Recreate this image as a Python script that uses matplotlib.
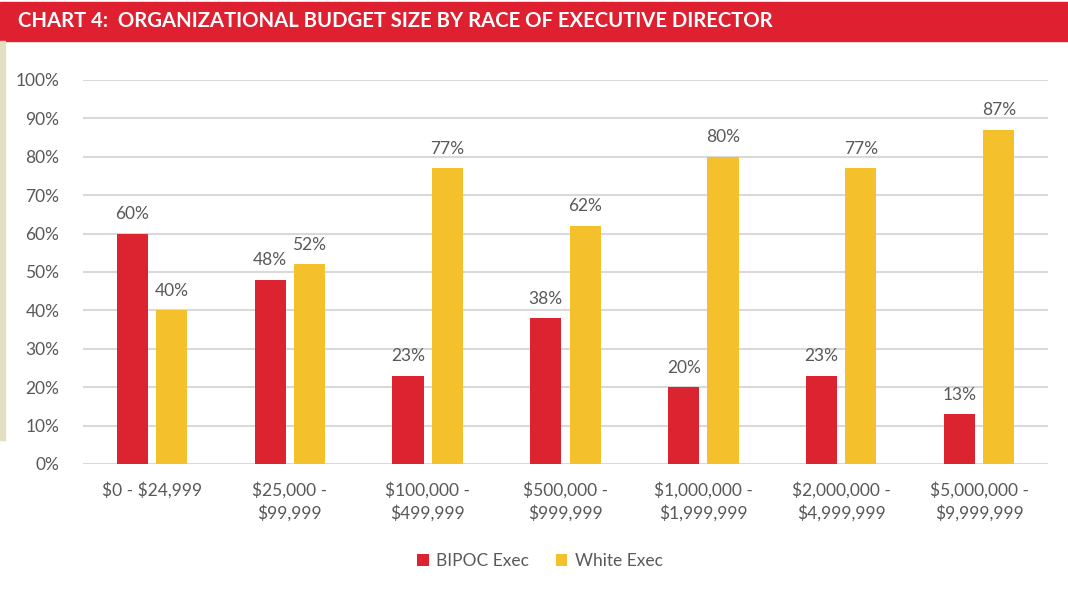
import matplotlib.pyplot as plt
import matplotlib.patches as mpatches
import numpy as np

plt.rcParams['font.family'] = ['Lato', 'DejaVu Sans']

categories = ['\\$0 - \\$24,999', '\\$25,000 -\n\\$99,999', '\\$100,000 -\n\\$499,999',
              '\\$500,000 -\n\\$999,999', '\\$1,000,000 -\n\\$1,999,999',
              '\\$2,000,000 -\n\\$4,999,999', '\\$5,000,000 -\n\\$9,999,999']
bipoc = [60, 48, 23, 38, 20, 23, 13]
white = [40, 52, 77, 62, 80, 77, 87]
series_names = ['BIPOC Exec', 'White Exec']

RED = '#DC2430'
YELLOW = '#F4C02C'
GRAY = '#595959'

fig = plt.figure(figsize=(10.68, 6), dpi=100)

# title banner + the beige strip on the left edge
fig.patches.append(mpatches.Rectangle((0, 1 - 41 / 600), 1, 39 / 600, transform=fig.transFigure,
                                      color='#DE2030', zorder=0))
fig.patches.append(mpatches.Rectangle((0, 1 - 440 / 600), 5 / 1068, 399 / 600, transform=fig.transFigure,
                                      color='#E4DEC2', zorder=0))
fig.text(18 / 1068, 1 - 21 / 600, 'CHART 4:  ORGANIZATIONAL BUDGET SIZE BY RACE OF EXECUTIVE DIRECTOR',
         color='white', fontsize=14.6, fontweight='bold', va='center', ha='left')

ax = fig.add_axes([83 / 1068, 1 - 464 / 600, 965 / 1068, 384 / 600])
x = np.arange(len(categories))
w = 0.225
gap = 0.03
b1 = ax.bar(x - w / 2 - gap, bipoc, w, color=RED, label=series_names[0], zorder=3)
b2 = ax.bar(x + w / 2 + gap, white, w, color=YELLOW, label=series_names[1], zorder=3)

for bars, vals in ((b1, bipoc), (b2, white)):
    for rect, v in zip(bars, vals):
        ax.text(rect.get_x() + rect.get_width() / 2, v + 3, f'{v}%', ha='center', va='bottom',
                color=GRAY, fontsize=12.5)

ax.set_xlim(-0.5, len(categories) - 0.5)
ax.set_ylim(0, 100)
ax.set_yticks(range(0, 101, 10))
ax.set_yticklabels([f'{t}%' for t in range(0, 101, 10)])
ax.set_xticks(x)
ax.set_xticklabels(categories, linespacing=1.45)
ax.tick_params(axis='both', length=0, colors=GRAY, labelsize=12.5)
ax.tick_params(axis='x', pad=13)
ax.tick_params(axis='y', pad=17)
for s in ax.spines.values():
    s.set_visible(False)
ax.yaxis.grid(True, color='#D9D9D9', linewidth=1.5, zorder=0)
ax.set_axisbelow(True)

leg = fig.legend(handles=[b1, b2], loc='center', bbox_to_anchor=(540 / 1068, 1 - 561 / 600), ncol=2,
                 frameon=False, fontsize=12.5, handlelength=0.65, handleheight=0.65, handletextpad=0.45,
                 columnspacing=1.5)
for t in leg.get_texts():
    t.set_color(GRAY)

fig.savefig('out.png', dpi=100)
